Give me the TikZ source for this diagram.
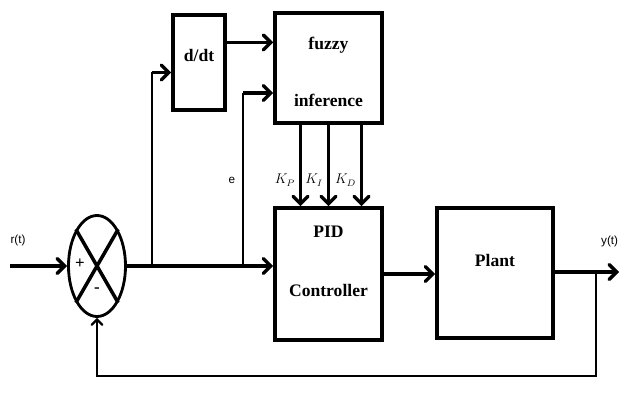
\documentclass[tikz,border=0pt]{standalone}
\usepackage{fontspec}
\setmainfont{Liberation Serif}
\newfontfamily\labfont{Liberation Sans}
\usetikzlibrary{arrows, shapes.geometric, calc}

\tikzset{
    blk/.style={draw, line width=3pt, inner sep=0pt},
    blktext/.style={font=\fontsize{15}{17}\selectfont\bfseries},
    wire/.style={line width=3pt},
    thinwire/.style={line width=1.9pt},
    sig/.style={font=\labfont\fontsize{10}{12}\selectfont},
}

\begin{document}
\begin{tikzpicture}[x=0.03cm, y=-0.03cm, >=angle 90]
    \useasboundingbox (0, 0) rectangle (621, 405);

    % blocks
    \node[draw, ellipse, line width=2.4pt, minimum width=1.71cm, minimum height=3.03cm, inner sep=0pt] (sum) at (97, 266) {};
    \node[blk, minimum width=1.56cm, minimum height=2.85cm] (ddt) at (199, 62.5) {};
    \node[blk, minimum width=3.21cm, minimum height=3.3cm] (fuzzy) at (328.5, 68) {};
    \node[blk, minimum width=3.21cm, minimum height=3.96cm] (pid) at (328.5, 274) {};
    \node[blk, minimum width=3.48cm, minimum height=3.9cm] (plant) at (495, 273) {};

    \node[blktext] (ddttext) at (199, 55) {d/dt};
    \node[blktext] (fuzzytext) at (328.5, 45) {fuzzy};
    \node[blktext] (inftext) at (328.5, 100) {inference};
    \node[blktext] (pidtext) at (328.5, 232) {PID};
    \node[blktext] (ctrltext) at (328.5, 290) {Controller};
    \node[blktext] (planttext) at (495, 260) {Plant};

    % summing junction
    \draw[wire] (sum.north west) -- (sum.south east) (sum.north east) -- (sum.south west);
    \node[font=\bfseries\Large] (plus) at (80, 264) {+};
    \node[font=\bfseries\Large] (minus) at (97, 290) {-};

    % signals
    \coordinate (rin) at (10, 266);
    \coordinate (b1) at (152, 266);
    \coordinate (b2) at (243, 266);
    \coordinate (b3) at (596, 272);
    \coordinate (fb) at (596, 376);
    \coordinate (yout) at (619, 272);
    \coordinate (dd) at ($(ddt.east)+(0,-20)$);
    \coordinate (dt) at ($(ddt.west)+(0,10)$);
    \coordinate (fz) at ($(fuzzy.west)+(0,25)$);

    \node[sig] (rlab) at (18, 240) {r(t)};
    \node[sig] (elab) at (232, 180) {e};
    \node[sig, anchor=west] (ylab) at (597, 241) {y(t)};

    \draw[wire, ->] (rin) -- (rin -| sum.west);
    \draw[wire, ->] (sum.east) -- (sum.east -| pid.west);
    \draw[thinwire] (b1) -- (b1 |- dt);
    \draw[wire, ->] (b1 |- dt) -- (dt);
    \draw[wire, ->] (dd) -- (dd -| fuzzy.west);
    \draw[thinwire] (b2) -- (b2 |- fz);
    \draw[wire, ->] (b2 |- fz) -- (fz);

    \foreach \dx/\kk in {-28/P, 0/I, 33/D} {
        \draw[wire, ->] ($(fuzzy.south)+(\dx,0)$) -- ($(pid.north)+(\dx,0)$)
            node[pos=0.68, left, font=\large] {$K_{\kk}$};
    }

    \draw[wire, ->] (pid.east) -- (pid.east -| plant.west);
    \draw[wire, ->] (plant.east |- yout) -- (yout);
    \draw[thinwire, ->] (b3) -- (fb) -| (sum.south);
\end{tikzpicture}
\end{document}
